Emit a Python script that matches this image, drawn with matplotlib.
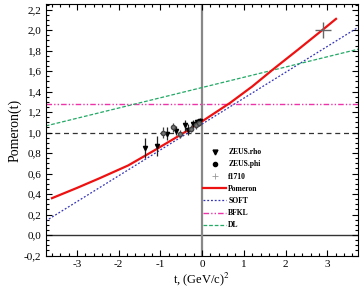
import matplotlib
matplotlib.use("Agg")
import matplotlib.pyplot as plt
from matplotlib.lines import Line2D
from matplotlib.ticker import MultipleLocator, FuncFormatter

# Data
pom_t = [-3.6, -3.0, -2.45, -1.77, -1.13, -0.53, 0.0, 0.67, 1.2, 1.71, 2.3, 2.91, 3.21]
pom_y = [0.36, 0.46, 0.556, 0.68, 0.83, 0.975, 1.11, 1.29, 1.45, 1.62, 1.81, 2.01, 2.11]

soft_t = [-3.75, 3.75]
soft_y = [0.137, 2.03]

bfkl_t = [-3.75, 3.75]
bfkl_y = [1.284, 1.284]

dl_t = [-3.75, 3.75]
dl_y = [1.065, 1.815]

rho_t = [-1.37, -1.07, -0.85, -0.62, -0.42, -0.33, -0.21, -0.13, -0.05]
rho_y = [0.85, 0.87, 0.99, 1.02, 1.07, 1.03, 1.08, 1.10, 1.11]
rho_e = [0.10, 0.10, 0.06, 0.04, 0.05, 0.05, 0.04, 0.03, 0.03]

phi_t = [-0.93, -0.69, -0.53, -0.27, -0.15, -0.08]
phi_y = [1.00, 1.05, 0.99, 1.04, 1.07, 1.09]
phi_e = [0.05, 0.04, 0.04, 0.03, 0.03, 0.03]

f_t = [2.91]
f_y = [2.0]

plt.rcParams['font.family'] = ['Liberation Serif', 'DejaVu Serif']
plt.rcParams['mathtext.fontset'] = 'stix'

fig = plt.figure(figsize=(3.61, 2.95), dpi=100)
ax = fig.add_axes([0.1266, 0.132, 0.8654, 0.854])

ax.axhline(0, color='#333333', lw=1.0, zorder=1)
ax.axvline(0, color='#888888', lw=1.6, zorder=1)
ax.axhline(1.0, color='#333333', lw=0.9, ls=(0, (4, 3)), zorder=1)

h_rho = ax.errorbar(rho_t, rho_y, yerr=rho_e, fmt='v', color='black', ms=3, lw=0.9,
                    ecolor='#222222', capsize=0, zorder=4)
h_phi = ax.errorbar(phi_t, phi_y, yerr=phi_e, fmt='o', color='#444444', ms=3, lw=0.9,
                    mfc='#777777', capsize=0, zorder=4)
ax.plot(f_t, f_y, '+', color='#666666', ms=12, mew=1.0, zorder=5)

h_pom, = ax.plot(pom_t, pom_y, color='#ee1111', lw=1.6, zorder=3)
h_soft, = ax.plot(soft_t, soft_y, color='#3333bb', lw=0.9, ls=(0, (1.5, 1.5)), zorder=2)
h_bfkl, = ax.plot(bfkl_t, bfkl_y, color='#ee33aa', lw=1.0, ls=(0, (4, 1.5, 1, 1.5, 1, 1.5)), zorder=2)
h_dl, = ax.plot(dl_t, dl_y, color='#22aa66', lw=0.9, ls=(0, (3, 1.5)), zorder=2)

ax.set_xlim(-3.75, 3.74)
ax.set_ylim(-0.205, 2.254)

ax.xaxis.set_major_locator(MultipleLocator(1))
ax.xaxis.set_minor_locator(MultipleLocator(0.2))
ax.yaxis.set_major_locator(MultipleLocator(0.2))
ax.yaxis.set_minor_locator(MultipleLocator(0.05))

ax.xaxis.set_major_formatter(FuncFormatter(lambda v, p: "0" if abs(v) < 1e-9 else f"{v:.0f}"))
ax.yaxis.set_major_formatter(FuncFormatter(lambda v, p: (f"{v:.1f}" if abs(v) > 1e-9 else "0.0").replace('.', ',')))

ax.tick_params(which='both', direction='in', top=True, right=True, labelsize=8, width=0.8, pad=3)
ax.tick_params(which='major', length=4)
ax.tick_params(which='minor', length=2)
for s in ax.spines.values():
    s.set_linewidth(0.8)

ax.set_xlabel(r"t, (GeV/c)$^2$", fontsize=9, labelpad=1)
ax.set_ylabel("Pomeron(t)", fontsize=10, labelpad=2)

h_f = Line2D([], [], ls='none', marker='+', color='#999999', ms=4, mew=0.6)
h_rho_l = Line2D([], [], ls='none', marker='v', color='black', ms=3.5)
h_phi_l = Line2D([], [], ls='none', marker='o', color='black', ms=3)
handles = [h_rho_l, h_phi_l, h_f, h_pom, h_soft, h_bfkl, h_dl]
labels = ['ZEUS.rho', 'ZEUS.phi', 'f1710', 'Pomeron', 'SOFT', 'BFKL', 'DL']
leg = ax.legend(handles, labels, loc='upper left', bbox_to_anchor=(0.494, 0.44),
                frameon=False, fontsize=5.5, handlelength=3.0, handletextpad=0.3,
                labelspacing=0.55, borderaxespad=0)
for t in leg.get_texts():
    t.set_fontweight('bold')

fig.savefig("out.png", dpi=100)
